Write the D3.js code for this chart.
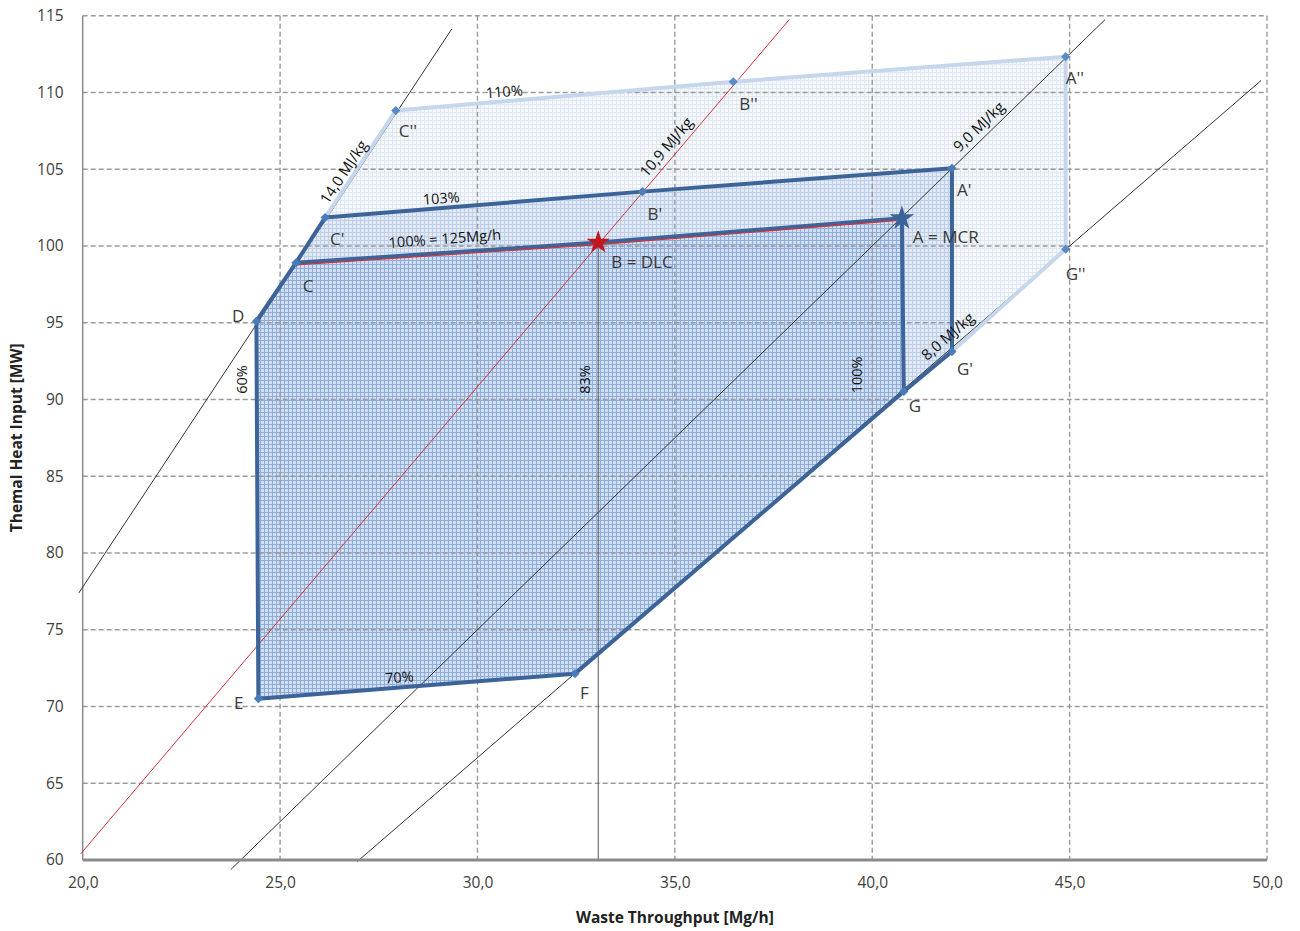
<!DOCTYPE html>
<html><head><meta charset="utf-8">
<script src="https://cdn.jsdelivr.net/npm/d3@7"></script>
<style>
body{margin:0;background:#fff}
svg{display:block}
text{font-family:"Open Sans","Liberation Sans",sans-serif}
</style>
</head><body>
<svg id="chart" width="1300" height="931"></svg>
<script>
// ---------------- data ----------------
const xTicks = [20, 25, 30, 35, 40, 45, 50];
const yTicks = [60, 65, 70, 75, 80, 85, 90, 95, 100, 105, 110, 115];
const xTickLabels = ["20,0", "25,0", "30,0", "35,0", "40,0", "45,0", "50,0"];

const pointNames  = ["D", "C", "B", "A", "G", "F", "E", "C'", "B'", "A'", "G'", "C''", "B''", "A''", "G''"];
const pointLabels = ["D", "C", "B = DLC", "A = MCR", "G", "F", "E", "C'", "B'", "A'", "G'", "C''", "B''", "A''", "G''"];
const pointX = [24.40, 25.40, 33.06, 40.75, 40.80, 32.47, 24.45, 26.14, 34.18, 42.02, 42.02, 27.93, 36.48, 44.90, 44.90];
const pointY = [95.10, 98.90, 100.22, 101.81, 90.52, 72.14, 70.51, 101.85, 103.54, 105.06, 93.12, 108.82, 110.70, 112.33, 99.79];

// calorific value lines  Q[MW] = m[Mg/h] * H[MJ/kg] / 3.6
const cvValues = [14.0, 10.9, 9.0, 8.0];
const cvLabels = ["14,0 MJ/kg", "10,9 MJ/kg", "9,0 MJ/kg", "8,0 MJ/kg"];
const cvStartX = [19.90, 19.95, 23.75, 26.95];
const cvEndX   = [29.35, 37.90, 45.90, 49.85];

// outlines and fills (sequences of point names)
const outline100 = ["D", "C", "B", "A", "G", "F", "E", "D"];
const outline103 = ["C", "C'", "B'", "A'", "G'", "G"];
const outline110 = ["C'", "C''", "B''", "A''", "G''", "G'"];
const fill110 = ["E", "D", "C", "C'", "C''", "B''", "A''", "G''", "G'", "G", "F"];
const fill103 = ["E", "D", "C", "C'", "B'", "A'", "G'", "G", "F"];
const fill100 = ["E", "D", "C", "B", "A", "G", "F"];

// load-line annotations: text, segment (from, to), position along x
const segLabels = ["110%", "103%", "100% = 125Mg/h", "70%"];
const segFrom   = ["C''", "C'", "C", "E"];
const segTo     = ["A''", "A'", "A", "F"];
const segAtX    = [30.7, 29.1, 29.2, 28.04];

// vertical annotations
const vLabels = ["60%", "83%", "100%"];
const vFrom   = ["E", "B", "A"];
const vAtY    = [91.3, 91.3, 91.6];

// ---------------- layout ----------------
const L = 82.7, R = 1267, T = 15.7, B = 860;
const svg = d3.select("#chart");
const x = d3.scaleLinear().domain([20, 50]).range([L, R]);
const y = d3.scaleLinear().domain([60, 115]).range([B, T]);

const pt = {};
pointNames.forEach((n, i) => pt[n] = {x: pointX[i], y: pointY[i], label: pointLabels[i]});
const line = d3.line().x(n => x(pt[n].x)).y(n => y(pt[n].y));

const labelLayout = {
  "D":   {dx: -12, dy: 1,  a: "end"},
  "C":   {dx: 7,   dy: 29, a: "start"},
  "B":   {dx: 13,  dy: 25, a: "start"},
  "A":   {dx: 11,  dy: 25, a: "start"},
  "G":   {dx: 5,   dy: 21, a: "start"},
  "F":   {dx: 5,   dy: 25, a: "start"},
  "E":   {dx: -15, dy: 10, a: "end"},
  "C'":  {dx: 5,   dy: 27, a: "start"},
  "B'":  {dx: 5,   dy: 28, a: "start"},
  "A'":  {dx: 5,   dy: 28, a: "start"},
  "G'":  {dx: 5,   dy: 23, a: "start"},
  "C''": {dx: 3,   dy: 26, a: "start"},
  "B''": {dx: 6,   dy: 28, a: "start"},
  "A''": {dx: 0,   dy: 27, a: "start"},
  "G''": {dx: 0,   dy: 31, a: "start"}
};

// patterns
const defs = svg.append("defs");
function gridPattern(id, size, bg, stroke, lw) {
  const p = defs.append("pattern").attr("id", id).attr("patternUnits", "userSpaceOnUse")
    .attr("width", size).attr("height", size);
  p.append("rect").attr("width", size).attr("height", size).attr("fill", bg);
  p.append("path").attr("d", `M0,0.5H${size}M0.5,0V${size}`).attr("stroke", stroke)
    .attr("stroke-width", lw).attr("fill", "none");
}
gridPattern("p100", 4, "#d2dff2", "#8fadd9", 1);
gridPattern("p103", 4, "#e2eaf6", "#bccee9", 1);
gridPattern("p110", 4, "#f6f9fc", "#dfe7f3", 1);

// fills
const fills = svg.append("g");
fills.append("path").attr("d", line(fill110) + "Z").attr("fill", "url(#p110)");
fills.append("path").attr("d", line(fill103) + "Z").attr("fill", "url(#p103)");
fills.append("path").attr("d", line(fill100) + "Z").attr("fill", "url(#p100)");

// grid
const grid = svg.append("g").attr("stroke", "#9a9a9a").attr("stroke-width", 1.4)
  .attr("stroke-dasharray", "5,3").attr("fill", "none");
grid.selectAll("line.v").data(xTicks.filter(d => d > 20)).join("line")
  .attr("class", "v")
  .attr("x1", d => x(d)).attr("x2", d => x(d)).attr("y1", y(115)).attr("y2", y(60));
grid.selectAll("line.h").data(yTicks.filter(d => d > 60)).join("line")
  .attr("class", "h")
  .attr("x1", x(20)).attr("x2", x(50)).attr("y1", d => y(d)).attr("y2", d => y(d));

// left axis line
svg.append("line").attr("x1", x(20)).attr("x2", x(20)).attr("y1", y(115)).attr("y2", y(60))
  .attr("stroke", "#8a8a8a").attr("stroke-width", 1.5);

// calorific value lines
const cvG = svg.append("g");
cvValues.forEach((cv, i) => {
  const q = v => v * cv / 3.6;
  cvG.append("line")
    .attr("x1", x(cvStartX[i])).attr("y1", y(q(cvStartX[i])))
    .attr("x2", x(cvEndX[i])).attr("y2", y(q(cvEndX[i])))
    .attr("stroke", i === 1 ? "#d2323a" : "#333")
    .attr("stroke-width", 1);
});

// vertical line at DLC
svg.append("line").attr("x1", x(pt["B"].x)).attr("x2", x(pt["B"].x))
  .attr("y1", y(pt["B"].y)).attr("y2", y(60)).attr("stroke", "#555").attr("stroke-width", 1);

// outlines
svg.append("path").attr("d", line(outline110)).attr("fill", "none")
  .attr("stroke", "#c6d7ed").attr("stroke-width", 4).attr("stroke-linejoin", "round");
svg.append("path").attr("d", line(outline103)).attr("fill", "none")
  .attr("stroke", "#3d6498").attr("stroke-width", 4).attr("stroke-linejoin", "round");
svg.append("path").attr("d", line(outline100)).attr("fill", "none")
  .attr("stroke", "#3d6498").attr("stroke-width", 4).attr("stroke-linejoin", "round");
// thin red 100% line along C-A
svg.append("path").attr("d", line(["C", "B", "A"])).attr("fill", "none")
  .attr("transform", "translate(0,2)")
  .attr("stroke", "#d2323a").attr("stroke-width", 1.2);

// bottom axis
svg.append("line").attr("x1", x(20)).attr("x2", x(50)).attr("y1", y(60)).attr("y2", y(60))
  .attr("stroke", "#8a8a8a").attr("stroke-width", 3);

// markers
const diamond = d3.symbol().type(d3.symbolSquare).size(42);
const markerNames = pointNames.filter(n => n !== "A" && n !== "B");
svg.append("g").selectAll("path").data(markerNames).join("path")
  .attr("d", diamond)
  .attr("transform", n => `translate(${x(pt[n].x)},${y(pt[n].y)}) rotate(45)`)
  .attr("fill", n => n.endsWith("''") ? "#5b8bc6" : "#4a7cba");
const star = d3.symbol().type(d3.symbolStar);
svg.append("path").attr("d", star.size(190)())
  .attr("transform", `translate(${x(pt["A"].x)},${y(pt["A"].y)})`).attr("fill", "#3d6498");
svg.append("path").attr("d", star.size(170)())
  .attr("transform", `translate(${x(pt["B"].x)},${y(pt["B"].y)})`).attr("fill", "#c0161f");

// point labels
svg.append("g").selectAll("text").data(pointNames).join("text")
  .attr("x", n => x(pt[n].x) + labelLayout[n].dx)
  .attr("y", n => y(pt[n].y) + labelLayout[n].dy)
  .attr("text-anchor", n => labelLayout[n].a)
  .attr("font-size", 17).attr("fill", "#3a3a3a")
  .text(n => pt[n].label);

// calorific labels along lines
const cvLabelAt = [26.85, 35.0, 42.9, 42.1];
cvValues.forEach((cv, i) => {
  const xv = cvLabelAt[i], yv = xv * cv / 3.6;
  const ang = Math.atan2(y(yv + cv / 3.6) - y(yv), x(xv + 1) - x(xv)) * 180 / Math.PI;
  svg.append("text")
    .attr("transform", `translate(${x(xv)},${y(yv)}) rotate(${ang})`)
    .attr("y", -6).attr("text-anchor", "middle")
    .attr("font-size", 15).attr("fill", "#111")
    .text(cvLabels[i]);
});

// segment labels
segLabels.forEach((t, i) => {
  const a = pt[segFrom[i]], b = pt[segTo[i]];
  const k = (segAtX[i] - a.x) / (b.x - a.x);
  const yv = a.y + k * (b.y - a.y);
  const ang = Math.atan2(y(b.y) - y(a.y), x(b.x) - x(a.x)) * 180 / Math.PI;
  svg.append("text")
    .attr("transform", `translate(${x(segAtX[i])},${y(yv)}) rotate(${ang})`)
    .attr("y", i === 2 ? -8 : -5).attr("text-anchor", "middle")
    .attr("font-size", 14.5).attr("fill", "#111")
    .text(t);
});

// vertical labels
const vDx = [-11, -8, -40];
vLabels.forEach((t, i) => {
  const px = x(pt[vFrom[i]].x) + vDx[i], py = y(vAtY[i]);
  svg.append("text")
    .attr("transform", `translate(${px},${py}) rotate(-90)`)
    .attr("text-anchor", "middle")
    .attr("font-size", 14.5).attr("fill", "#111")
    .text(t);
});

// tick labels
const yAxis = d3.axisLeft(y).tickValues(yTicks).tickSize(0).tickPadding(19).tickFormat(d3.format("d"));
const gy = svg.append("g").attr("transform", `translate(${L},0)`).call(yAxis);
gy.select(".domain").remove();
gy.selectAll("text").attr("font-size", 15.5).attr("fill", "#404040")
  .attr("font-family", "'Open Sans', sans-serif");

const xAxis = d3.axisBottom(x).tickValues(xTicks).tickSize(0).tickPadding(17)
  .tickFormat((d, i) => xTickLabels[i]);
const gx = svg.append("g").attr("transform", `translate(0,${B})`).call(xAxis);
gx.select(".domain").remove();
gx.selectAll("text").attr("font-size", 15.5).attr("fill", "#404040")
  .attr("font-family", "'Open Sans', sans-serif");

// axis titles
svg.append("text").attr("x", (L + R) / 2).attr("y", 923).attr("text-anchor", "middle")
  .attr("font-size", 15.5).attr("font-weight", "bold").attr("fill", "#222")
  .text("Waste Throughput [Mg/h]");
svg.append("text").attr("transform", `translate(22,${(T + B) / 2}) rotate(-90)`)
  .attr("text-anchor", "middle")
  .attr("font-size", 15.5).attr("font-weight", "bold").attr("fill", "#222")
  .text("Themal Heat Input [MW]");
</script>
</body></html>
